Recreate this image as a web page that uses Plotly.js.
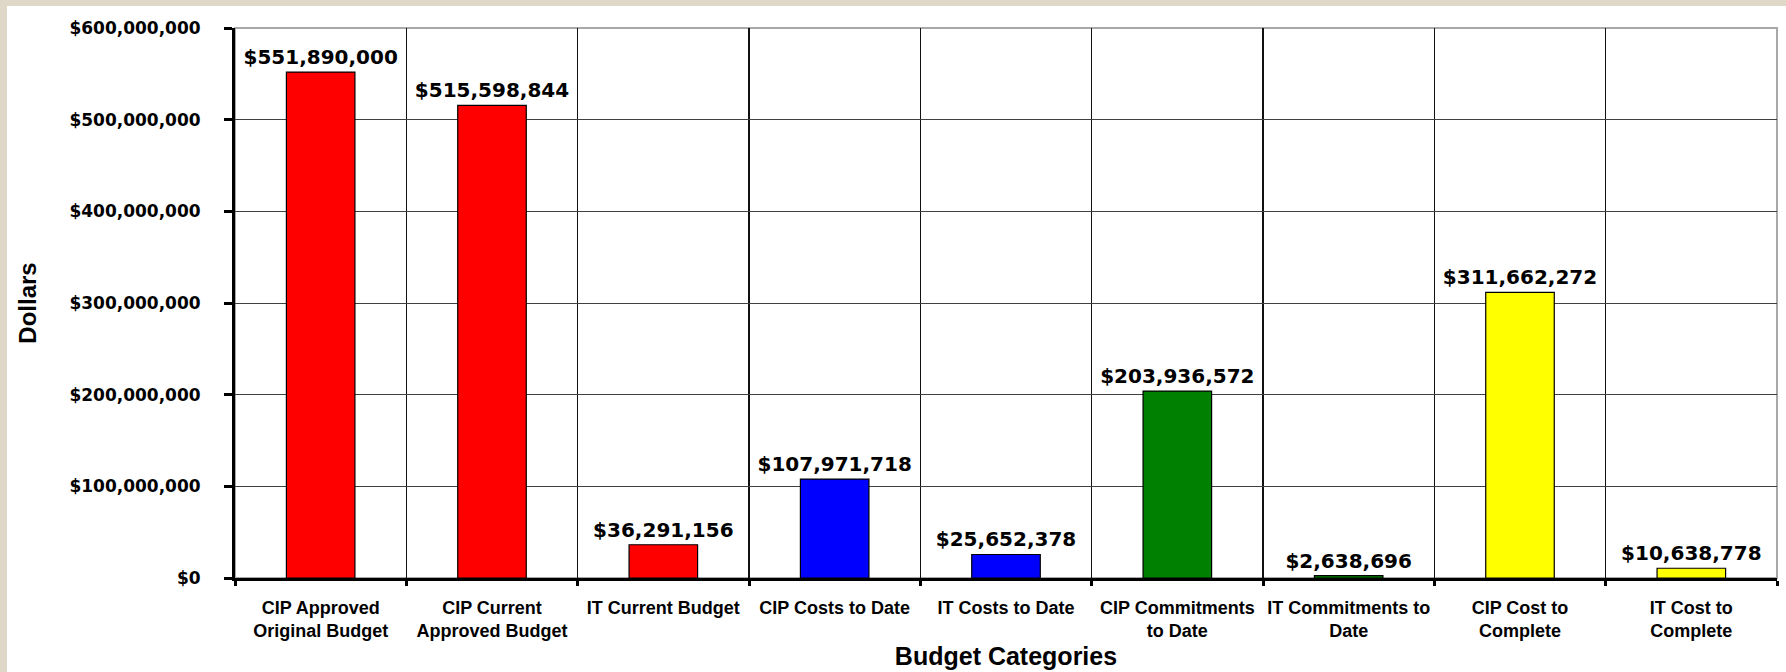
<!DOCTYPE html>
<html>
<head>
<meta charset="utf-8">
<script src="https://cdn.plot.ly/plotly-3.0.1.min.js"></script>
<style>
  html, body { margin: 0; padding: 0; background: rgb(223,215,199); width: 1786px; height: 672px; overflow: hidden; }
  #chart { position: absolute; left: 7px; top: 6px; width: 1779px; height: 666px; background: #fff; }
</style>
</head>
<body>
<div id="chart"></div>
<script>
// Data
const categories = [
  "CIP Approved Original Budget",
  "CIP Current Approved Budget",
  "IT Current Budget",
  "CIP Costs to Date",
  "IT Costs to Date",
  "CIP Commitments to Date",
  "IT Commitments to Date",
  "CIP Cost to Complete",
  "IT Cost to Complete"
];
const tickLabels = [
  "CIP Approved<br>Original Budget",
  "CIP Current<br>Approved Budget",
  "IT Current Budget",
  "CIP Costs to Date",
  "IT Costs to Date",
  "CIP Commitments<br>to Date",
  "IT Commitments to<br>Date",
  "CIP Cost to<br>Complete",
  "IT Cost to<br>Complete"
];
const values = [551890000, 515598844, 36291156, 107971718, 25652378, 203936572, 2638696, 311662272, 10638778];
const barColors = ["#FF0000", "#FF0000", "#FF0000", "#0000FF", "#0000FF", "#008000", "#008000", "#FFFF00", "#FFFF00"];
const yTickVals = [0, 100000000, 200000000, 300000000, 400000000, 500000000, 600000000];

const trace = {
  type: "bar",
  x: categories,
  y: values,
  width: 0.4,
  marker: { color: barColors, line: { color: "#000", width: 1.2 } },
  texttemplate: "$%{y:,.0f}",
  textposition: "outside",
  constraintext: "none",
  cliponaxis: false,
  textfont: { family: "DejaVu Sans", size: 20, color: "#000", weight: "bold" },
  hoverinfo: "x+y"
};

const layout = {
  width: 1779,
  height: 666,
  paper_bgcolor: "#FFFFFF",
  plot_bgcolor: "#FFFFFF",
  margin: { l: 228, r: 9, t: 22, b: 94 },
  showlegend: false,
  bargap: 0.6,
  xaxis: {
    type: "category",
    tickvals: categories,
    ticktext: tickLabels,
    tickangle: 0,
    tickson: "boundaries",
    ticks: "outside",
    ticklen: 5,
    tickwidth: 3,
    tickcolor: "#000",
    showline: true,
    linecolor: "#000",
    linewidth: 3,
    showgrid: true,
    gridcolor: "#111",
    gridwidth: 1.3,
    ticklabelstandoff: 11,
    tickfont: { family: "Liberation Sans, Arial, sans-serif", size: 18, color: "#000", weight: "bold" },
    automargin: false,
    title: {
      text: "Budget Categories",
      font: { family: "Liberation Sans, Arial, sans-serif", size: 25, color: "#000", weight: "bold" },
      standoff: 8
    }
  },
  yaxis: {
    range: [0, 600000000],
    tickvals: yTickVals,
    tickformat: "$,.0f",
    ticks: "outside",
    ticklen: 8,
    tickwidth: 3,
    tickcolor: "#000",
    showline: true,
    linecolor: "#000",
    linewidth: 3,
    showgrid: true,
    gridcolor: "#404040",
    gridwidth: 1,
    zeroline: false,
    ticklabelstandoff: 20,
    tickfont: { family: "DejaVu Sans", size: 17, color: "#000", weight: "bold" },
    automargin: true,
    title: {
      text: "Dollars",
      font: { family: "Liberation Sans, Arial, sans-serif", size: 24, color: "#000", weight: "bold" },
      standoff: 26
    }
  },
  shapes: [
    { type: "rect", xref: "paper", yref: "paper", x0: 0, x1: 1, y0: 0, y1: 1,
      line: { color: "#A8A8A8", width: 2 }, layer: "below" }
  ]
};

Plotly.newPlot("chart", [trace], layout, { displayModeBar: false, staticPlot: true });
</script>
</body>
</html>
